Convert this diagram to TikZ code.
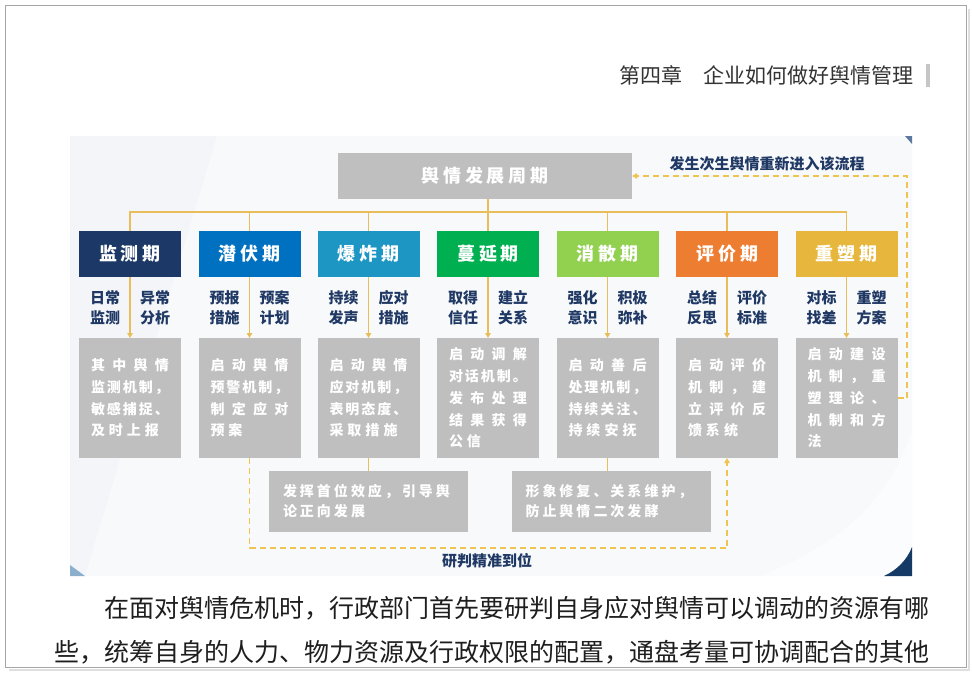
\documentclass[tikz,border=0pt]{standalone}
\usepackage{fontspec}
\setmainfont{Noto Sans CJK SC}
\usetikzlibrary{arrows.meta}
\definecolor{navyt}{RGB}{31,56,100}
\definecolor{greyc}{RGB}{191,191,191}
\definecolor{linec}{RGB}{233,190,90}
\definecolor{dashc}{RGB}{240,196,80}
\definecolor{panelc}{RGB}{243,245,248}
\definecolor{panell}{RGB}{248,249,251}
\definecolor{c1}{RGB}{28,56,102}
\definecolor{c2}{RGB}{0,112,192}
\definecolor{c3}{RGB}{30,150,196}
\definecolor{c4}{RGB}{0,176,80}
\definecolor{c5}{RGB}{146,208,80}
\definecolor{c6}{RGB}{237,125,49}
\definecolor{c7}{RGB}{230,183,60}
\definecolor{bodyc}{RGB}{30,30,30}
\definecolor{headc}{RGB}{51,51,51}
\definecolor{cornertr}{RGB}{90,120,160}
\definecolor{cornerbl}{RGB}{140,175,205}
\definecolor{cornerbr}{RGB}{22,58,102}
\def\spcx#1#2\relax{#1\ifx\relax#2\relax\else\spcsep\spcx#2\relax\fi}
\newcommand\ls[2][4pt]{\leavevmode\begingroup\def\spcsep{\kern#1}\spcx#2\relax\endgroup}
\newcommand\js[2][78pt]{\leavevmode\hbox to #1{\def\spcsep{\hfill}\spcx#2\relax}}
\begin{document}
\begin{tikzpicture}[x=1pt,y=-1pt,
  stagebox/.style={minimum width=102pt, minimum height=46pt, inner sep=0pt, outer sep=0pt, text=white, font=\fontsize{18}{20}\selectfont\bfseries},
  greybox/.style={fill=greyc, minimum height=120pt, text width=78pt, inner xsep=12pt, inner ysep=0pt, outer sep=0pt, text=white, align=left, font=\fontsize{14}{21.7}\selectfont\bfseries},
  botbox/.style={fill=greyc, minimum height=61pt, text width=171pt, inner xsep=14pt, inner ysep=0pt, outer sep=0pt, text=white, align=left, font=\fontsize{14}{20}\selectfont\bfseries},
  lab/.style={text=navyt, align=center, font=\fontsize{15}{20}\selectfont\bfseries, inner sep=0pt},
  note/.style={text=navyt, font=\fontsize{15}{18}\selectfont\bfseries, inner sep=0pt},
  conn/.style={draw=linec, line width=1.3pt},
  dconn/.style={draw=dashc, line width=1.2pt, dash pattern=on 6pt off 4pt},
  arrowend/.style={-{Triangle[length=5pt,width=5.5pt]}},
  body/.style={text=bodyc, font=\fontsize{25}{30}\selectfont, inner sep=0pt, anchor=west}
]
\useasboundingbox (0,0) rectangle (972,675);
\fill[white] (0,0) rectangle (972,675);
% page frame
\draw[gray!25, line width=2.5pt] (969,9) -- (969,670) -- (9,670);
\draw[gray!70, line width=1pt] (5,5) rectangle (966,667);
% header
\node[anchor=east, inner sep=0pt, text=headc, font=\fontsize{21}{24}\selectfont] (hd) at (914,75) {第四章　企业如何做好舆情管理};
\fill[gray!45] (926,64) rectangle (929.5,87);
% panel
\fill[panelc] (70,136) rectangle (912,576);
\fill[panell] (217,136) -- (912,136) -- (912,576) -- (85,576) -- cycle;
\fill[white, opacity=0.5] (760,576) .. controls (840,545) and (890,500) .. (912,430) -- (912,576) -- cycle;
\fill[cornertr] (905,136) -- (912,136) -- (912,144) -- cycle;
\fill[cornerbl] (70,565) -- (70,576) -- (85,576) -- cycle;
\fill[cornerbr] (884,576) .. controls (897,570) and (907,560) .. (912,547) -- (912,576) -- cycle;
% top box
\node[fill=greyc, minimum width=294pt, minimum height=46pt, inner sep=0pt, outer sep=0pt, text=white, font=\fontsize{18}{20}\selectfont\bfseries] (top) at (485,176) {\ls[3.8pt]{舆情发展周期}};
% stage boxes
\node[stagebox, fill=c1] (s1) at (130,254) {\ls{监测期}};
\node[stagebox, fill=c2] (s2) at (249.5,254) {\ls{潜伏期}};
\node[stagebox, fill=c3] (s3) at (368.5,254) {\ls{爆炸期}};
\node[stagebox, fill=c4] (s4) at (488,254) {\ls{蔓延期}};
\node[stagebox, fill=c5] (s5) at (607.5,254) {\ls{消散期}};
\node[stagebox, fill=c6] (s6) at (727,254) {\ls{评价期}};
\node[stagebox, fill=c7] (s7) at (846.5,254) {\ls{重塑期}};
% labels
\node[lab] (l1a) at (105,308) {日常\\监测};
\node[lab] (l1b) at (155,308) {异常\\分析};
\node[lab] (l2a) at (224.5,308) {预报\\措施};
\node[lab] (l2b) at (274.5,308) {预案\\计划};
\node[lab] (l3a) at (343.5,308) {持续\\发声};
\node[lab] (l3b) at (393.5,308) {应对\\措施};
\node[lab] (l4a) at (463,308) {取得\\信任};
\node[lab] (l4b) at (513,308) {建立\\关系};
\node[lab] (l5a) at (582.5,308) {强化\\意识};
\node[lab] (l5b) at (632.5,308) {积极\\弥补};
\node[lab] (l6a) at (702,308) {总结\\反思};
\node[lab] (l6b) at (752,308) {评价\\标准};
\node[lab] (l7a) at (821.5,308) {对标\\找差};
\node[lab] (l7b) at (871.5,308) {重塑\\方案};
% grey boxes
\node[greybox] (g1) at (130,398) {\js{其中舆情}\\\js{监测机制，}\\\js{敏感捕捉、}\\\ls{及时上报}};
\node[greybox] (g2) at (249.5,398) {\js{启动舆情}\\\js{预警机制，}\\\js{制定应对}\\\ls{预案}};
\node[greybox] (g3) at (368.5,398) {\js{启动舆情}\\\js{应对机制，}\\\js{表明态度、}\\\ls{采取措施}};
\node[greybox] (g4) at (488,398) {\js{启动调解}\\\js{对话机制。}\\\js{发布处理}\\\js{结果获得}\\\ls{公信}};
\node[greybox] (g5) at (607.5,398) {\js{启动善后}\\\js{处理机制，}\\\js{持续关注、}\\\ls{持续安抚}};
\node[greybox] (g6) at (727,398) {\js{启动评价}\\\js{机制，建}\\\js{立评价反}\\\ls{馈系统}};
\node[greybox] (g7) at (846.5,398) {\js{启动建设}\\\js{机制，重}\\\js{塑理论、}\\\js{机制和方}\\\ls{法}};
% bottom boxes
\node[botbox] (b1) at (368.5,501.5) {\ls[3pt]{发挥首位效应，引导舆}\\\ls[3pt]{论正向发展}};
\node[botbox] (b2) at (611,501.5) {\ls[3pt]{形象修复、关系维护，}\\\ls[3pt]{防止舆情二次发酵}};
% notes
\node[note] (n1) at (767,164) {发生次生舆情重新进入该流程};
\node[note] (n2) at (487,561) {研判精准到位};
% connectors
\coordinate (bus) at (0,212);
\coordinate (loop) at (0,548);
\coordinate (rx) at (907,0);
\draw[conn] (s1.north) -- (s1.north |- bus) -- (s7.north |- bus) -- (s7.north);
\foreach \i in {2,...,6} \draw[conn] (s\i.north |- bus) -- (s\i.north);
\draw[conn] (top.south -| s4.north) -- (s4.north |- bus);
\foreach \i in {1,...,7} \draw[conn, arrowend] (s\i.south) -- (g\i.north);
\draw[conn] (g3.south) -- (g3.south |- b1.north);
\draw[conn] (g5.south) -- (g5.south |- b2.north);
\draw[dconn, arrowend] (g2.south) -- (g2.south |- loop) -- (g6.south |- loop) -- (g6.south);
\draw[dconn, arrowend] (g7.east) -| (rx |- top.east) -- (top.east);
% body text
\node[body] (p1) at (104,608) {在面对舆情危机时，行政部门首先要研判自身应对舆情可以调动的资源有哪};
\node[body] (p2) at (54,652) {些，统筹自身的人力、物力资源及行政权限的配置，通盘考量可协调配合的其他};
\end{tikzpicture}
\end{document}
